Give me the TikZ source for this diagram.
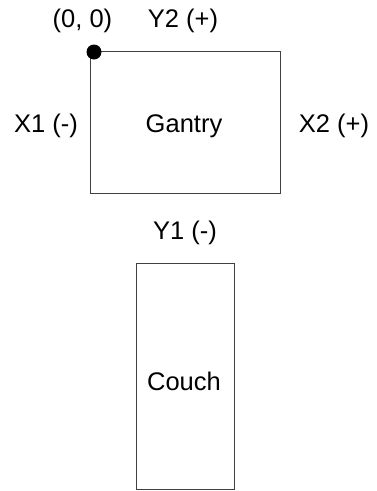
\documentclass[tikz,border=0pt]{standalone}
\usepackage{fontspec}
\setmainfont{Liberation Sans}
\begin{document}
\begin{tikzpicture}[x=1pt,y=-1pt,
  box/.style={draw=black!75, line width=1pt, fill=white, inner sep=0pt},
  lbl/.style={font=\fontsize{25.5}{30}\selectfont, inner sep=0pt}]
  \useasboundingbox (0,0) rectangle (377,491);
  % gantry outline
  \node[box, minimum width=189.5pt, minimum height=141.7pt, anchor=north west] (gantry) at (90,51) {};
  \node[lbl] (gtext) at (184,126) {Gantry};
  % couch outline
  \node[box, minimum width=98.6pt, minimum height=226.3pt, anchor=north west] (couch) at (135.7,262.7) {};
  \node[lbl] (ctext) at (184,381) {Couch};
  % origin marker
  \fill (gantry.north west) ++(4,1) coordinate (origin) circle (7.5);
  % axis labels
  \node[lbl] (orig) at (82.5,21) {(0, 0)};
  \node[lbl] (y2) at (183,21) {Y2 (+)};
  \node[lbl] (x1) at (46,126) {X1 (-)};
  \node[lbl] (x2) at (334,126) {X2 (+)};
  \node[lbl] (y1) at (185,233) {Y1 (-)};
\end{tikzpicture}
\end{document}
